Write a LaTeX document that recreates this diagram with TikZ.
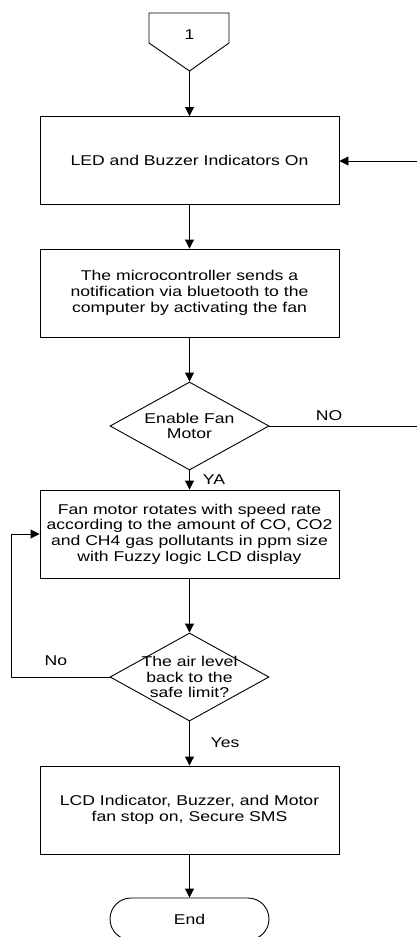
\documentclass[tikz,border=0pt]{standalone}
\usepackage{fontspec}
\setmainfont{Liberation Sans}[FakeStretch=1.24]
\usetikzlibrary{shapes.geometric,shapes.misc,arrows.meta}
\begin{document}
\begin{tikzpicture}[x=1pt,y=-1pt,
  every node/.style={font=\fontsize{14.2}{15.7}\selectfont, align=center},
  line/.style={line width=0.9pt},
  arr/.style={line, -{Triangle[length=9pt,width=9pt]}},
  procbox/.style={draw, line width=0.9pt, minimum width=299pt, minimum height=88pt, inner sep=0pt},
  decision/.style={draw, diamond, line width=0.9pt, minimum width=159pt, minimum height=88pt, inner sep=0pt},
  term/.style={draw, rounded rectangle, line width=0.9pt, minimum width=159pt, minimum height=42pt, inner sep=0pt},
]
\useasboundingbox (0,0) rectangle (417,937);
\fill[white] (0,0) rectangle (417,937);

% off-page connector
\draw[line] (149,13) -- (229,13) -- (229,43) -- (189.5,71) -- (149,43) -- cycle;
\coordinate (c1tip) at (189.5,71);
\node (c1) at (189.5,35) {1};

\node[procbox] (b1) at (189.5,160.5) {LED and Buzzer Indicators On};
\node[procbox] (b2) at (189.5,293) {The microcontroller sends a\\notification via bluetooth to the\\computer by activating the fan};
\node[decision, label={[name=d1t]center:Enable Fan\\Motor}] (d1) at (189.5,426) {};
\node[procbox] (b3) at (189.5,534) {Fan motor rotates with speed rate\\according to the amount of CO, CO2\\and CH4 gas pollutants in ppm size\\with Fuzzy logic LCD display};
\node[decision, label={[name=d2t]center:The air level\\back to the\\safe limit?}] (d2) at (189.5,677) {};
\node[procbox] (b4) at (189.5,810) {LCD Indicator, Buzzer, and Motor\\fan stop on, Secure SMS};
\node[term] (end) at (189.5,919) {End};

\coordinate (r1) at (417,161);
\coordinate (r2) at (417,426);
\coordinate (lp) at (11,677);

\draw[arr] (c1tip) -- (b1);
\draw[arr] (r1) -- (r1 -| b1.east);
\draw[arr] (b1) -- (b2);
\draw[arr] (b2) -- (d1);
\draw[line] (d1.east) -- (r2);
\draw[arr] (d1) -- (b3);
\draw[arr] (b3) -- (d2);
\draw[arr] (d2.west) -- (lp) |- (b3.west);
\draw[arr] (d2) -- (b4);
\draw[arr] (b4) -- (end);

\node[anchor=base] (lno) at (329,420.7) {NO};
\node[anchor=base] (lya) at (214,484) {YA};
\node[anchor=base] (lno2) at (56,665) {No};
\node[anchor=base] (lyes) at (225,747) {Yes};
\end{tikzpicture}
\end{document}
